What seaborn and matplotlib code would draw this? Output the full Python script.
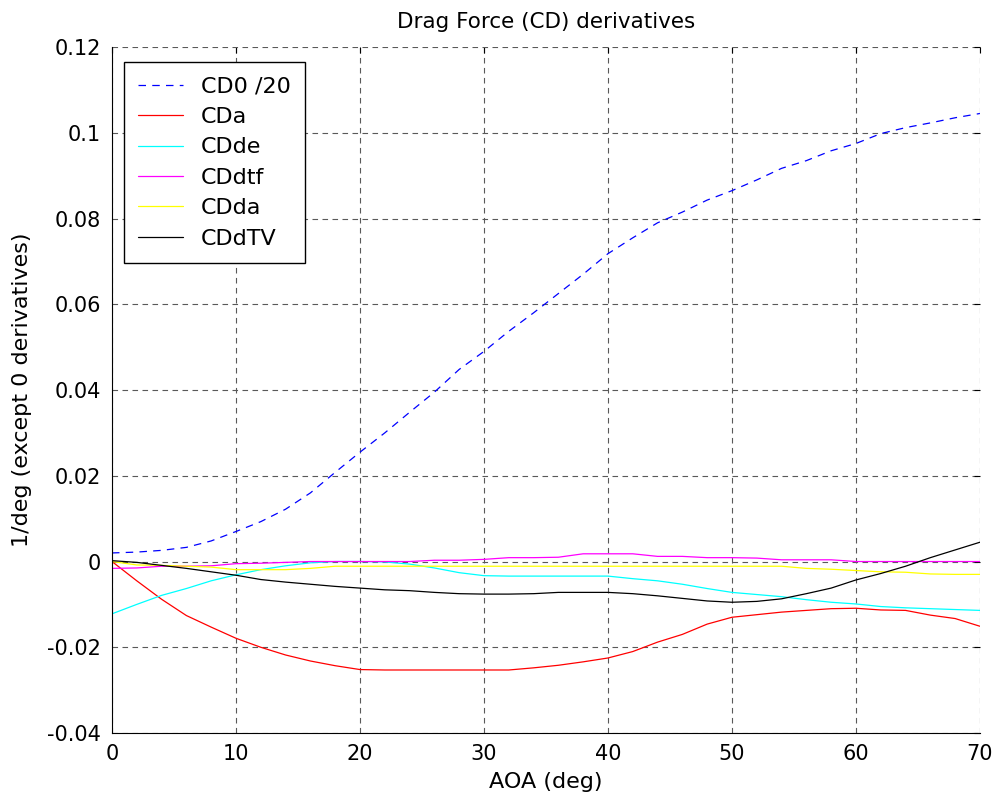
import matplotlib
matplotlib.use("Agg")
import matplotlib.pyplot as plt
import seaborn as sns

# AOA samples (deg)
aoa = [0, 2, 4, 6, 8, 10, 12, 14, 16, 18, 20, 22, 24, 26, 28, 30, 32, 34,
       36, 38, 40, 42, 44, 46, 48, 50, 52, 54, 56, 58, 60, 62, 64, 66, 68, 70]

# drag derivatives
cd0_20 = [0.0020, 0.0022, 0.0026, 0.0033, 0.0048, 0.0070, 0.0093, 0.0122, 0.0160,
          0.0208, 0.0255, 0.0300, 0.0348, 0.0395, 0.0448, 0.0490, 0.0537, 0.0580,
          0.0625, 0.0670, 0.0718, 0.0755, 0.0790, 0.0815, 0.0843, 0.0865, 0.0890,
          0.0917, 0.0935, 0.0958, 0.0975, 0.0998, 0.1012, 0.1023, 0.1035, 0.1045]
cda = [0.0, -0.0045, -0.0088, -0.0126, -0.0153, -0.0179, -0.0200, -0.0218, -0.0232,
       -0.0243, -0.0252, -0.0253, -0.0253, -0.0253, -0.0253, -0.0253, -0.0253, -0.0248,
       -0.0242, -0.0234, -0.0225, -0.0210, -0.0188, -0.0170, -0.0146, -0.0130, -0.0124,
       -0.0118, -0.0114, -0.0110, -0.0109, -0.0113, -0.0114, -0.0125, -0.0133, -0.0151]
cdde = [-0.0122, -0.0100, -0.0079, -0.0063, -0.0045, -0.0031, -0.0019, -0.0010, -0.0003,
        0.0, 0.0, -0.0001, -0.0006, -0.0015, -0.0026, -0.0033, -0.0034, -0.0034,
        -0.0034, -0.0034, -0.0034, -0.0040, -0.0045, -0.0053, -0.0063, -0.0072, -0.0077,
        -0.0082, -0.0089, -0.0095, -0.0099, -0.0105, -0.0108, -0.0110, -0.0112, -0.0114]
cddtf = [-0.0016, -0.0015, -0.0011, -0.0011, -0.0010, -0.0005, -0.0004, -0.0002, 0.0,
         0.0, 0.0, 0.0, 0.0, 0.0003, 0.0003, 0.0005, 0.0009, 0.0009,
         0.0010, 0.0018, 0.0018, 0.0018, 0.0012, 0.0012, 0.0009, 0.0009, 0.0008,
         0.0004, 0.0004, 0.0004, 0.0, 0.0, 0.0, 0.0, 0.0, 0.0]
cdda = [0.0, -0.0008, -0.0009, -0.0011, -0.0013, -0.0019, -0.0019, -0.0019, -0.0016,
        -0.0011, -0.0011, -0.0011, -0.0011, -0.0011, -0.0011, -0.0011, -0.0011, -0.0011,
        -0.0011, -0.0011, -0.0011, -0.0011, -0.0011, -0.0011, -0.0011, -0.0011, -0.0011,
        -0.0011, -0.0016, -0.0018, -0.0021, -0.0024, -0.0025, -0.0029, -0.0030, -0.0030]
cddtv = [0.0002, -0.0002, -0.0009, -0.0016, -0.0024, -0.0032, -0.0042, -0.0048, -0.0053,
         -0.0058, -0.0062, -0.0066, -0.0068, -0.0072, -0.0075, -0.0076, -0.0076, -0.0075,
         -0.0072, -0.0072, -0.0072, -0.0075, -0.0080, -0.0086, -0.0092, -0.0095, -0.0093,
         -0.0087, -0.0075, -0.0062, -0.0043, -0.0028, -0.0011, 0.0009, 0.0027, 0.0045]

series = [("CD0 /20", cd0_20, "#0000ff"),
          ("CDa", cda, "#ff0000"),
          ("CDde", cdde, "#00ffff"),
          ("CDdtf", cddtf, "#ff00ff"),
          ("CDda", cdda, "#ffff00"),
          ("CDdTV", cddtv, "#000000")]

sns.set_style("white")
plt.rcParams["font.family"] = ["DejaVu Sans"]
plt.rcParams["text.color"] = "black"
plt.rcParams["axes.labelcolor"] = "black"

fig = plt.figure(figsize=(9.98, 8.08), dpi=100)
ax = fig.add_axes([0.1122, 0.0928, 0.8697, 0.849])

for name, vals, col in series:
    sns.lineplot(x=aoa, y=vals, color=col, linewidth=0.9, label=name, ax=ax)
ax.lines[0].set_linestyle((0, (6, 5)))

ax.set_xlim(0, 70)
ax.set_ylim(-0.04, 0.12)
ax.set_xticks([0, 10, 20, 30, 40, 50, 60, 70])
ax.set_yticks([-0.04, -0.02, 0, 0.02, 0.04, 0.06, 0.08, 0.1, 0.12])
ax.set_yticklabels(["-0.04", "-0.02", "0", "0.02", "0.04", "0.06", "0.08", "0.1", "0.12"])

ax.grid(True, color="0.35", linestyle=(0, (5, 4)), linewidth=0.8)
ax.tick_params(direction="in", length=4, width=0.8, top=True, right=True,
               labelsize=15, pad=8, colors="black")
for side in ["top", "right"]:
    ax.spines[side].set_visible(False)
for side in ["left", "bottom"]:
    ax.spines[side].set_color("black")
    ax.spines[side].set_linewidth(0.8)

ax.set_title("Drag Force (CD) derivatives", fontsize=15.5, pad=14, color="black")
ax.set_xlabel("AOA (deg)", fontsize=16, labelpad=6)
ax.set_ylabel("1/deg (except 0 derivatives)", fontsize=16, labelpad=11)

leg = ax.legend(loc="upper left", bbox_to_anchor=(12 / 868, 1 - 15 / 686),
                borderaxespad=0, fontsize=16, frameon=True, fancybox=False,
                framealpha=1, edgecolor="black", handlelength=2.0,
                handletextpad=0.8, borderpad=0.65, labelspacing=0.47)
leg.get_frame().set_linewidth(1.0)
for t in leg.get_texts():
    t.set_color("black")

fig.savefig("out.png", dpi=100)
